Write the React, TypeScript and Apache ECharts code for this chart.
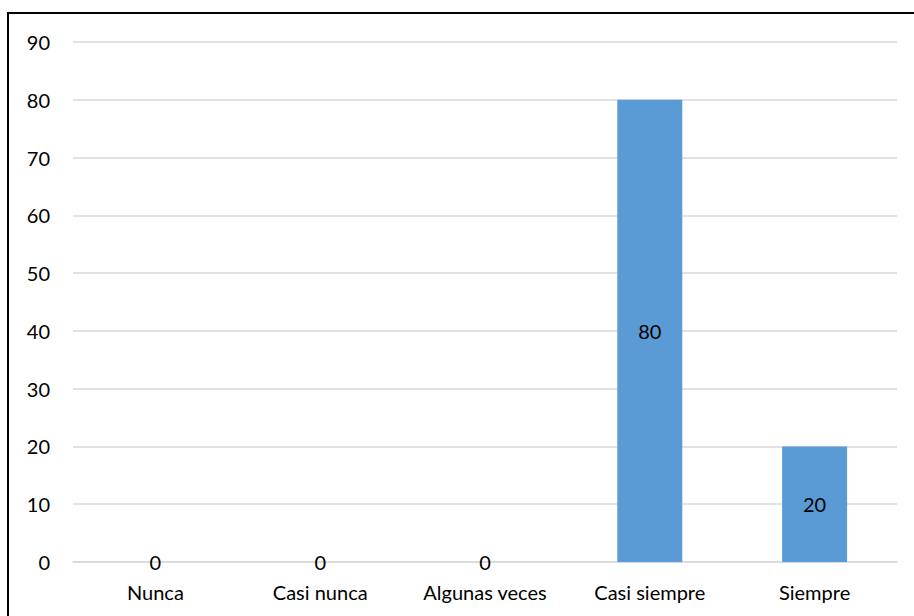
import React, { useEffect, useRef } from "react";
import * as echarts from "echarts";

const categories = ["Nunca", "Casi nunca", "Algunas veces", "Casi siempre", "Siempre"];
const values = [0, 0, 0, 80, 20];
const yTicks = [0, 10, 20, 30, 40, 50, 60, 70, 80, 90];

const FONT = "Lato, 'Open Sans', sans-serif";
const FS = 20;

export default function App() {
  const ref = useRef<HTMLDivElement>(null);
  useEffect(() => {
    if (!ref.current) return;
    const chart = echarts.init(ref.current, undefined, { renderer: "svg" });
    chart.setOption({
      animation: false,
      grid: { left: 73, right: 17, top: 42, bottom: 54, containLabel: false },
      xAxis: {
        type: "category",
        data: categories,
        axisLine: { show: true, lineStyle: { color: "#d9d9d9", width: 1.5 } },
        axisTick: { show: false },
        axisLabel: { color: "#000", fontFamily: FONT, fontSize: FS, margin: 20 },
      },
      yAxis: {
        type: "value",
        min: yTicks[0],
        max: yTicks[yTicks.length - 1],
        interval: 10,
        axisLine: { show: false },
        axisTick: { show: false },
        splitLine: { lineStyle: { color: "#d9d9d9", width: 1.5 } },
        axisLabel: { color: "#000", fontFamily: FONT, fontSize: FS, margin: 23 },
      },
      series: [
        {
          type: "bar",
          data: values,
          barWidth: 65,
          itemStyle: { color: "#5b9bd5" },
          label: {
            show: true,
            position: "inside",
            color: "#000",
            fontFamily: FONT,
            fontSize: FS,
          },
        },
      ],
    });
    return () => chart.dispose();
  }, []);
  return (
    <div style={{ position: "fixed", left: 0, top: 0, width: 914, height: 616, overflow: "hidden", background: "#fff" }}>
      <div ref={ref} style={{ position: "absolute", left: 0, top: 0, width: 914, height: 616 }} />
      <div
        style={{
          position: "absolute",
          left: 7,
          top: 12,
          width: 1000,
          height: 1000,
          borderTop: "2px solid #000",
          borderLeft: "2px solid #000",
          pointerEvents: "none",
        }}
      />
    </div>
  );
}
